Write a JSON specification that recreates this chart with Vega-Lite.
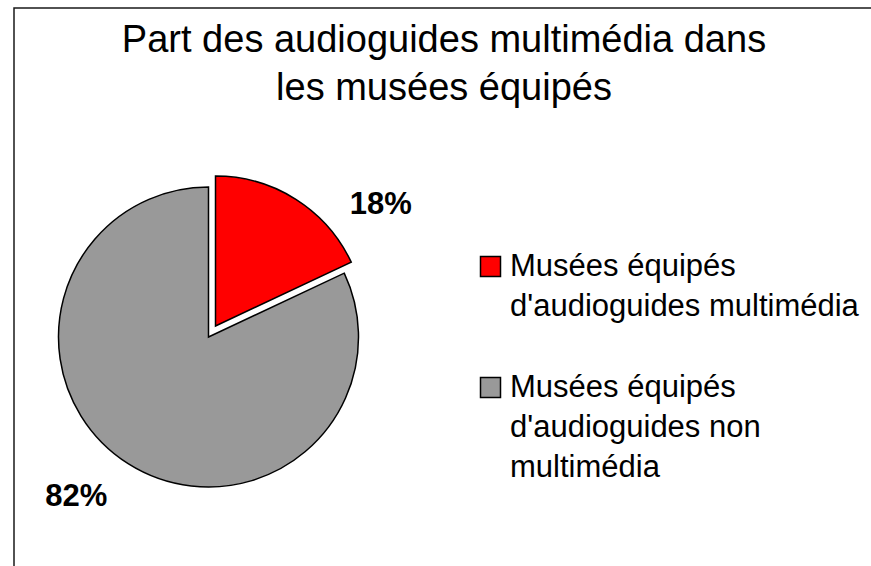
{
  "$schema": "https://vega.github.io/schema/vega-lite/v6.json",
  "autosize": "none",
  "width": 870,
  "height": 570,
  "padding": {"left": 14, "top": 8, "right": 0, "bottom": 0},
  "background": "white",
  "title": {
    "text": ["Part des audioguides multimédia dans", "les musées équipés"],
    "font": "Liberation Sans",
    "fontSize": 38,
    "fontWeight": "normal",
    "lineHeight": 48,
    "anchor": "middle",
    "baseline": "top",
    "color": "black",
    "offset": 0,
    "dx": -5,
    "dy": 101
  },
  "data": {
    "values": [
      {"cat": "Musées équipés d'audioguides multimédia", "pct": 18, "ord": 1, "label": "18%"},
      {"cat": "Musées équipés d'audioguides non multimédia", "pct": 82, "ord": 2, "label": "82%"}
    ]
  },
  "layer": [
    {
      "data": {"values": [{"frame": 1}]},
      "mark": {"type": "rect", "fill": "white", "fillOpacity": 0, "stroke": "#1a1a1a", "strokeWidth": 1.5}
    },
    {
      "mark": {"type": "arc", "x": 194.5, "y": 329, "outerRadius": 150, "stroke": "black", "strokeWidth": 1.5},
      "encoding": {
        "theta": {"field": "pct", "type": "quantitative", "stack": true},
        "order": {"field": "ord", "type": "quantitative"},
        "color": {
          "field": "cat",
          "type": "nominal",
          "scale": {
            "domain": ["Musées équipés d'audioguides multimédia", "Musées équipés d'audioguides non multimédia"],
            "range": ["#ff0000", "#999999"]
          },
          "legend": {
            "orient": "none",
            "legendX": 461,
            "legendY": 243,
            "title": null,
            "padding": 0,
            "symbolType": "square",
            "symbolSize": 400,
            "symbolStrokeColor": "black",
            "symbolStrokeWidth": 1.5,
            "labelFont": "Liberation Sans",
            "labelFontSize": 31,
            "labelColor": "black",
            "labelOffset": 4,
            "labelLimit": 0,
            "rowPadding": 49,
            "labelExpr": "datum.value == 'Musées équipés d\\'audioguides multimédia' ? ['Musées équipés', 'd\\'audioguides multimédia'] : ['Musées équipés', 'd\\'audioguides non', 'multimédia']"
          }
        },
        "opacity": {"condition": {"test": "datum.ord == 2", "value": 1}, "value": 0}
      }
    },
    {
      "mark": {"type": "arc", "x": 201.5, "y": 318, "outerRadius": 150, "stroke": "black", "strokeWidth": 1.5},
      "encoding": {
        "theta": {"field": "pct", "type": "quantitative", "stack": true},
        "order": {"field": "ord", "type": "quantitative"},
        "color": {"field": "cat", "type": "nominal"},
        "opacity": {"condition": {"test": "datum.ord == 1", "value": 1}, "value": 0}
      }
    },
    {
      "mark": {"type": "text", "x": 194.5, "y": 329, "radius": 189, "align": "right", "baseline": "middle", "font": "Liberation Sans", "fontSize": 31, "fontWeight": "bold", "color": "black"},
      "encoding": {
        "theta": {"field": "pct", "type": "quantitative", "stack": true},
        "order": {"field": "ord", "type": "quantitative"},
        "text": {"condition": {"test": "datum.ord == 2", "field": "label"}, "value": ""}
      }
    },
    {
      "mark": {"type": "text", "x": 194.5, "y": 329, "radius": 189, "align": "left", "baseline": "middle", "dx": 40, "dy": 28, "font": "Liberation Sans", "fontSize": 31, "fontWeight": "bold", "color": "black"},
      "encoding": {
        "theta": {"field": "pct", "type": "quantitative", "stack": true},
        "order": {"field": "ord", "type": "quantitative"},
        "text": {"condition": {"test": "datum.ord == 1", "field": "label"}, "value": ""}
      }
    }
  ],
  "config": {
    "view": {"stroke": null},
    "style": {"guide-label": {"lineHeight": 40}}
  }
}
